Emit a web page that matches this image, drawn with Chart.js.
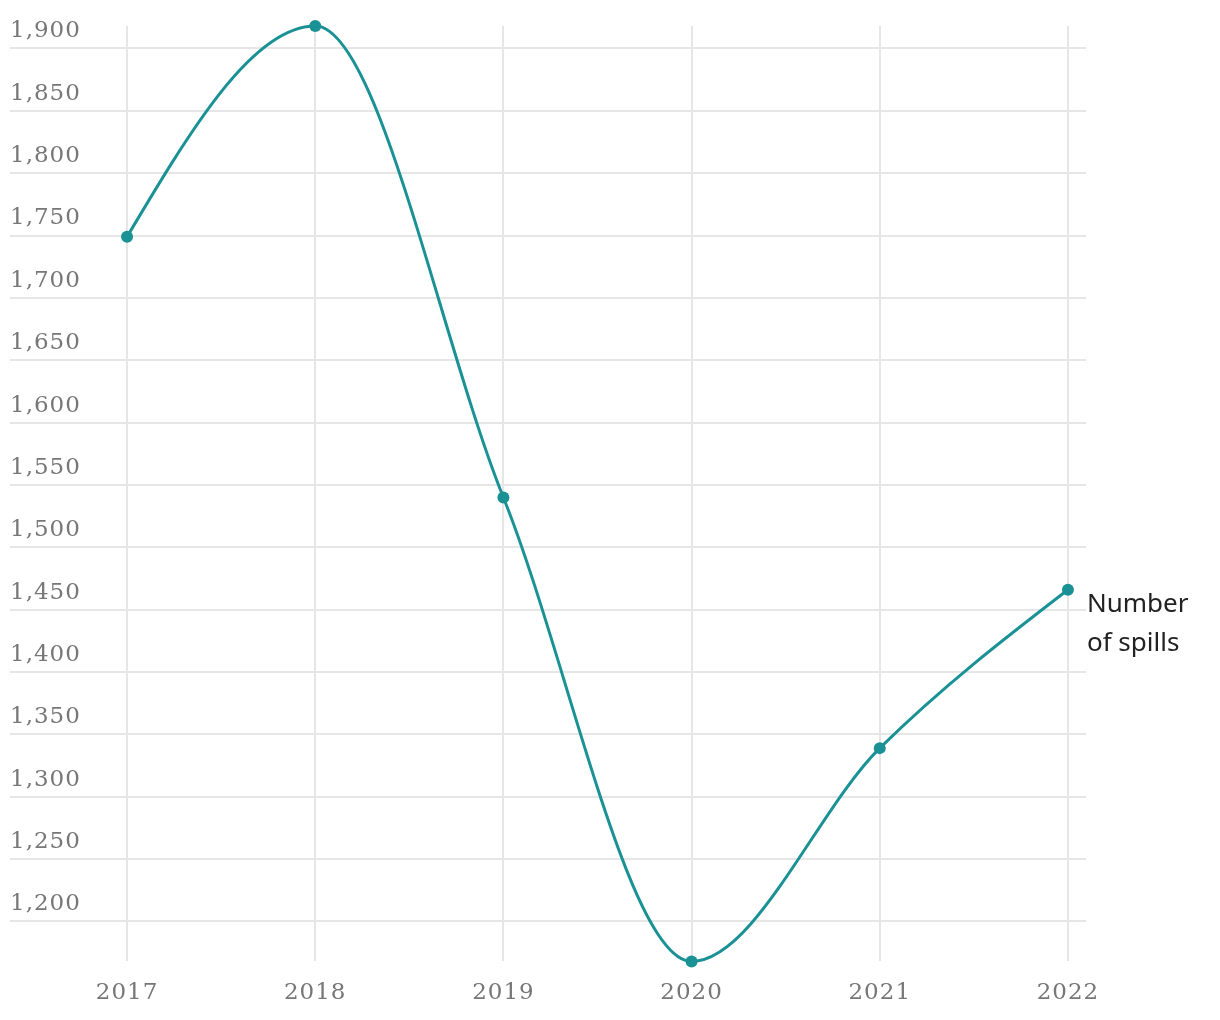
<!DOCTYPE html>
<html lang="en">
<head>
    <meta charset="UTF-8">
    <title>Number of spills</title>
    <script src="https://cdn.jsdelivr.net/npm/chart.js"></script>
    <style>
        body { margin: 0; background: #fff; }
        #wrap { width: 1220px; height: 1020px; }
    </style>
</head>
<body>
    <div id="wrap"><canvas id="spillsChart" width="1220" height="1020"></canvas></div>

    <script>
        // data
        let years = [2017, 2018, 2019, 2020, 2021, 2022];
        let spills = [1749, 1918, 1540, 1168, 1339, 1466];
        let yTicks = [1200, 1250, 1300, 1350, 1400, 1450, 1500, 1550, 1600, 1650, 1700, 1750, 1800, 1850, 1900];
        let seriesLabel = ["Number", "of spills"];

        let teal = "#1a9195";
        let gridColor = "#e6e6e6";
        let tickColor = "#777777";
        let tickFont = { family: "DejaVu Serif", size: 23 };

        // label next to the last point
        let endLabel = {
            id: "endLabel",
            beforeDraw(chart) {
                chart.ctx.letterSpacing = "1px";
            },
            afterDatasetsDraw(chart) {
                let meta = chart.getDatasetMeta(0);
                let last = meta.data[meta.data.length - 1];
                let ctx = chart.ctx;
                ctx.save();
                ctx.letterSpacing = "0px";
                ctx.font = "26px 'Noto Sans'";
                ctx.fillStyle = "#222222";
                ctx.textAlign = "left";
                ctx.textBaseline = "alphabetic";
                seriesLabel.forEach((line, i) => {
                    ctx.fillText(line, last.x + 19, last.y + 22 + i * 39);
                });
                ctx.restore();
            }
        };

        // monotone curve with d3-style end tangents
        let endTangents = {
            id: "endTangents",
            beforeDatasetDraw(chart, args) {
                let meta = args.meta;
                meta.dataset.updateControlPoints(chart.chartArea, meta.indexAxis || "x");
                let pts = meta.data;
                let fix = (a, b, isStart) => {
                    let dx = b.x - a.x;
                    let s = (b.y - a.y) / dx;
                    let inner = isStart ? b : a;
                    let t = isStart
                        ? (inner.y - inner.cp1y) / (inner.x - inner.cp1x)
                        : (inner.cp1y - inner.y) / (inner.cp1x - inner.x);
                    let m = (3 * s - t) / 2;
                    if (isStart) {
                        a.cp2x = a.x + dx / 3;
                        a.cp2y = a.y + m * dx / 3;
                    } else {
                        b.cp1x = b.x - dx / 3;
                        b.cp1y = b.y - m * dx / 3;
                    }
                };
                fix(pts[0], pts[1], true);
                fix(pts[pts.length - 2], pts[pts.length - 1], false);
            }
        };

        let ctx = document.getElementById("spillsChart").getContext("2d");
        new Chart(ctx, {
            type: "line",
            data: {
                datasets: [{
                    label: seriesLabel.join(" "),
                    data: years.map((y, i) => ({ x: y, y: spills[i] })),
                    borderColor: teal,
                    backgroundColor: teal,
                    borderWidth: 3,
                    pointRadius: 6,
                    pointBorderWidth: 0,
                    cubicInterpolationMode: "monotone",
                    clip: false
                }]
            },
            options: {
                responsive: false,
                animation: false,
                layout: { padding: { left: 10, right: 134, top: 26, bottom: -5 } },
                plugins: {
                    legend: { display: false },
                    tooltip: { enabled: false }
                },
                scales: {
                    x: {
                        type: "linear",
                        min: years[0] - 0.622,
                        max: years[years.length - 1] + 0.096,
                        afterBuildTicks: scale => {
                            scale.ticks = years.map(v => ({ value: v }));
                        },
                        border: { display: false },
                        grid: { color: gridColor, lineWidth: 2, drawTicks: false },
                        ticks: {
                            padding: 18,
                            color: tickColor,
                            font: tickFont,
                            callback: v => String(v)
                        }
                    },
                    y: {
                        min: Math.min(...spills),
                        max: Math.max(...spills),
                        afterBuildTicks: scale => {
                            scale.ticks = yTicks.map(v => ({ value: v }));
                        },
                        border: { display: false },
                        grid: { color: gridColor, lineWidth: 2, drawTicks: false },
                        ticks: {
                            mirror: true,
                            padding: 0,
                            labelOffset: -17,
                            color: tickColor,
                            font: tickFont,
                            callback: v => v.toLocaleString("en-US")
                        }
                    }
                }
            },
            plugins: [endLabel, endTangents]
        });
    </script>
</body>
</html>
